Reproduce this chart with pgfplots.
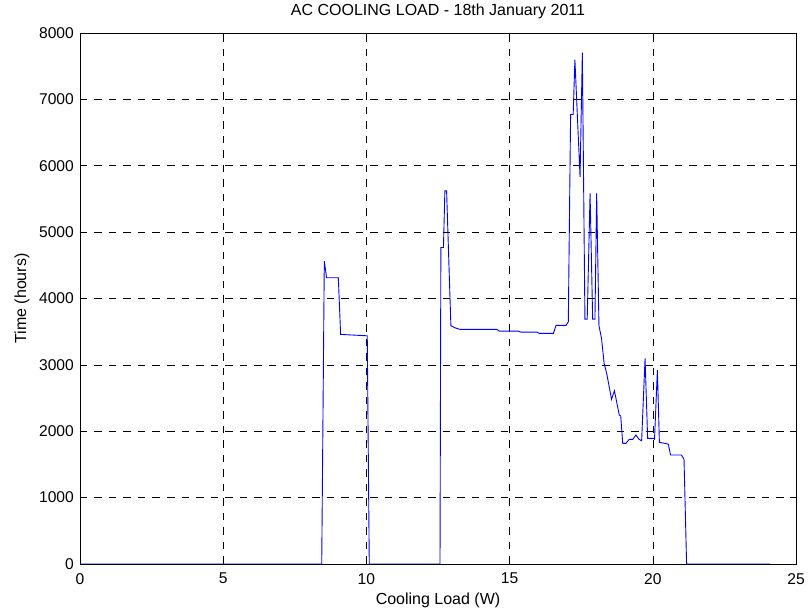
\documentclass[border=0pt]{standalone}
\usepackage{fontspec}
\setmainfont{Liberation Sans}
\usepackage{pgfplots}
\pgfplotsset{compat=1.18}
\begin{document}
\begin{tikzpicture}
\useasboundingbox (-80bp,-46bp) rectangle (728bp,564bp);
\begin{axis}[
  at={(0,0)}, anchor=south west,
  scale only axis, width=716bp, height=531bp,
  xmin=0, xmax=25, ymin=0, ymax=8000,
  xtick={0,5,10,15,20,25},
  ytick={0,1000,2000,3000,4000,5000,6000,7000,8000},
  scaled y ticks=false,
  /pgf/number format/assume math mode=true,
  /pgf/number format/1000 sep={},
  grid=major,
  major grid style={black, line width=0.6bp, dash pattern=on 7.5bp off 7bp},
  tick align=inside,
  major tick length=6bp,
  tick style={black, line width=0.6bp},
  axis line style={black, line width=0.8bp},
  ticklabel style={font=\fontsize{15.6bp}{18bp}\selectfont},
  yticklabel style={inner sep=0pt, xshift=-6bp},
  xticklabel style={inner sep=0pt, yshift=-9bp},
  title={AC COOLING LOAD - 18th January 2011},
  title style={at={(axis description cs:0.5,1.0226)}, anchor=base, inner sep=0pt, font=\fontsize{16bp}{19bp}\selectfont},
  xlabel={Cooling Load (W)},
  xlabel style={at={(axis description cs:0.5,-0.0772)}, anchor=base, inner sep=0pt, font=\fontsize{16bp}{19bp}\selectfont},
  ylabel={Time (hours)},
  ylabel style={at={(axis description cs:-0.0754,0.5)}, anchor=base, inner sep=0pt, font=\fontsize{16bp}{19bp}\selectfont},
]
\addplot[color={rgb,255:red,0;green,0;blue,255}, line width=0.9bp, mark=none] coordinates {
(0,0) (8.44,0) (8.53,4563) (8.61,4312) (9.02,4312) (9.10,3459) (10.03,3438) (10.10,0)
(12.57,0) (12.60,4769) (12.69,4769) (12.74,5622) (12.80,5622) (12.95,3589) (13.09,3559)
(13.27,3534) (14.55,3534) (14.64,3509) (15.30,3509) (15.39,3494) (15.95,3494) (16.04,3474)
(16.53,3474) (16.62,3594) (16.97,3594) (17.05,3650) (17.13,6772) (17.22,6772) (17.28,7600)
(17.46,5833) (17.54,7706) (17.63,3690) (17.71,3690) (17.81,5583) (17.90,3690) (17.98,3690)
(18.04,5583) (18.12,3590) (18.21,3400) (18.30,3022) (18.39,2872) (18.56,2480) (18.66,2610)
(18.83,2244) (18.88,2230) (18.95,1818) (19.06,1818) (19.18,1878) (19.30,1878) (19.41,1943)
(19.52,1878) (19.61,1857) (19.73,3098) (19.82,1893) (20.02,1893) (20.06,1880) (20.16,2922)
(20.23,1833) (20.54,1807) (20.62,1642) (21.00,1642) (21.09,1577) (21.18,0) (24.1,0)
};
\end{axis}
\end{tikzpicture}
\end{document}
